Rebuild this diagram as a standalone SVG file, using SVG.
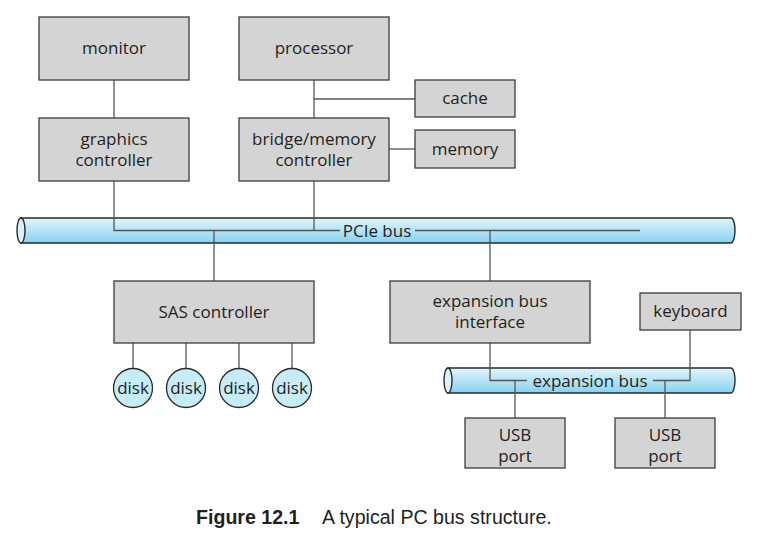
<svg xmlns="http://www.w3.org/2000/svg" width="775" height="541" viewBox="0 0 775 541">
<defs>
<linearGradient id="tube" x1="0" y1="0" x2="0" y2="1">
<stop offset="0" stop-color="#e3f5fc"/>
<stop offset="1" stop-color="#86d2f1"/>
</linearGradient>
<style>
.box{fill:#d4d4d4;stroke:#3c3c3c;stroke-width:1.3}
.lbl{font-family:"Open Sans","Liberation Sans",sans-serif;font-size:17px;fill:#231f20;text-anchor:middle}
.con{fill:none;stroke:#555;stroke-width:1.3}
.tube{fill:url(#tube);stroke:#2a2a2a;stroke-width:1.4}
.end{fill:#d8f1fb;stroke:#2a2a2a;stroke-width:1.4}
.disk{fill:#c8ebf9;stroke:#2a2a2a;stroke-width:1.3}
.cap{font-family:"Liberation Sans",Arial,sans-serif;font-size:19.6px;fill:#231f20}
</style>
</defs>
<rect width="775" height="541" fill="#fff"/>

<g id="pcie-bus">
<path class="tube" d="M21,218 H731 A4,12.5 0 0 1 731,243 H21 Z"/>
<ellipse class="end" cx="21" cy="230.5" rx="4" ry="12.5"/>
</g>
<g id="expansion-bus">
<path class="tube" d="M448,368 H731 A4,12.5 0 0 1 731,393 H448 Z"/>
<ellipse class="end" cx="448" cy="380.5" rx="4" ry="12.5"/>
</g>

<g id="connectors">
<path class="con" d="M114,80 V118"/>
<path class="con" d="M314,80 V118"/>
<path class="con" d="M314,99 H415"/>
<path class="con" d="M389,149 H415"/>
<path class="con" d="M114,181 V230.5 H340"/>
<path class="con" d="M314,181 V230.5"/>
<path class="con" d="M415,230.5 H640"/>
<path class="con" d="M214,230.5 V281"/>
<path class="con" d="M490,230.5 V281"/>
<path class="con" d="M133,343 V368.5"/>
<path class="con" d="M186,343 V368.5"/>
<path class="con" d="M239,343 V368.5"/>
<path class="con" d="M292,343 V368.5"/>
<path class="con" d="M490,343 V380.5 H527"/>
<path class="con" d="M653,380.5 H690 V330"/>
<path class="con" d="M515,380.5 V418"/>
<path class="con" d="M665,380.5 V418"/>
</g>

<text class="lbl" x="377" y="236.5">PCIe bus</text>
<text class="lbl" x="590" y="386.5">expansion bus</text>

<g id="monitor"><rect class="box" x="39" y="17" width="150" height="63"/><text class="lbl" x="114" y="54">monitor</text></g>
<g id="processor"><rect class="box" x="239" y="17" width="150" height="63"/><text class="lbl" x="314" y="54">processor</text></g>
<g id="cache"><rect class="box" x="415" y="80" width="100" height="37"/><text class="lbl" x="465" y="104">cache</text></g>
<g id="graphics-controller"><rect class="box" x="39" y="118" width="150" height="63"/><text class="lbl" x="114" y="145">graphics</text><text class="lbl" x="114" y="166">controller</text></g>
<g id="bridge-memory-controller"><rect class="box" x="239" y="118" width="150" height="63"/><text class="lbl" x="314" y="145">bridge/memory</text><text class="lbl" x="314" y="166">controller</text></g>
<g id="memory"><rect class="box" x="415" y="130" width="100" height="38"/><text class="lbl" x="465" y="155">memory</text></g>
<g id="sas-controller"><rect class="box" x="114" y="281" width="200" height="62"/><text class="lbl" x="214" y="318">SAS controller</text></g>
<g id="expansion-bus-interface"><rect class="box" x="390" y="281" width="200" height="62"/><text class="lbl" x="490" y="307">expansion bus</text><text class="lbl" x="490" y="328">interface</text></g>
<g id="keyboard"><rect class="box" x="640" y="293" width="101" height="37"/><text class="lbl" x="690.5" y="317">keyboard</text></g>
<g id="disk1"><circle class="disk" cx="133" cy="388" r="19.5"/><text class="lbl" x="133" y="394">disk</text></g>
<g id="disk2"><circle class="disk" cx="186" cy="388" r="19.5"/><text class="lbl" x="186" y="394">disk</text></g>
<g id="disk3"><circle class="disk" cx="239" cy="388" r="19.5"/><text class="lbl" x="239" y="394">disk</text></g>
<g id="disk4"><circle class="disk" cx="292" cy="388" r="19.5"/><text class="lbl" x="292" y="394">disk</text></g>
<g id="usb-port-1"><rect class="box" x="465" y="418" width="100" height="50"/><text class="lbl" x="515" y="441">USB</text><text class="lbl" x="515" y="462">port</text></g>
<g id="usb-port-2"><rect class="box" x="615" y="418" width="100" height="50"/><text class="lbl" x="665" y="441">USB</text><text class="lbl" x="665" y="462">port</text></g>

<g id="caption">
<text class="cap" x="196" y="524" font-weight="bold">Figure 12.1</text>
<text class="cap" x="322" y="524">A typical PC bus structure.</text>
</g>
</svg>
